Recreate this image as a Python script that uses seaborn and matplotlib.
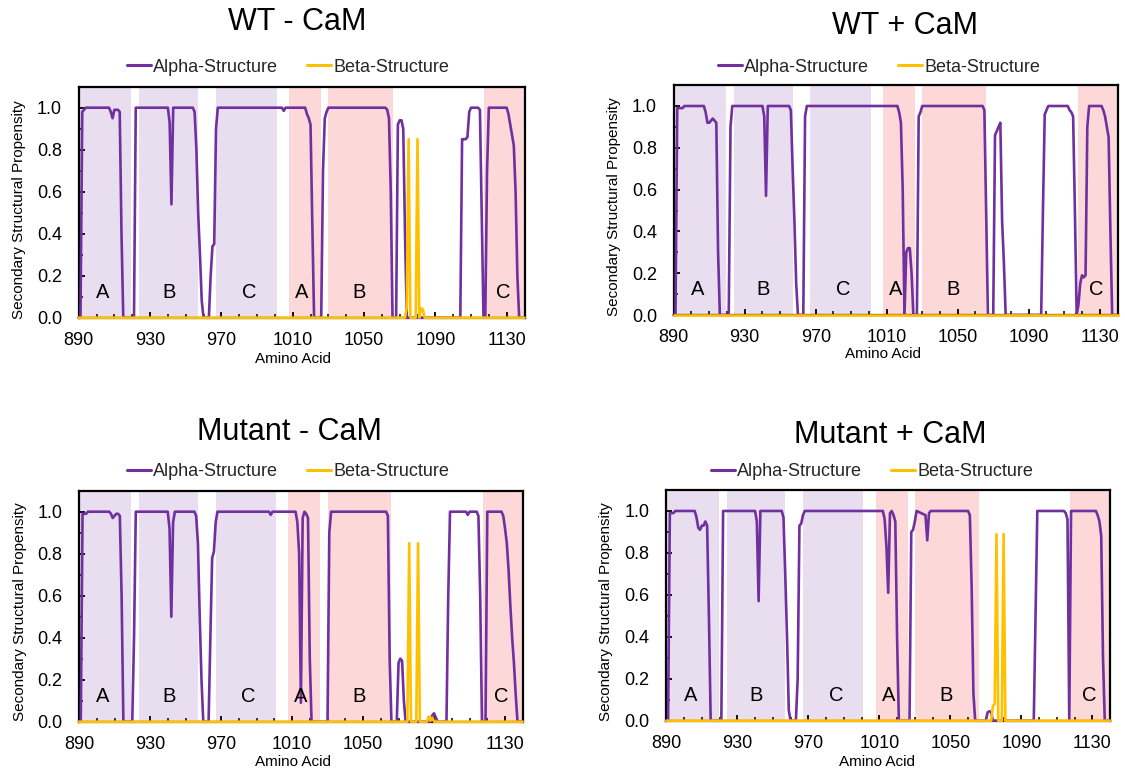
import matplotlib
matplotlib.use("Agg")
import matplotlib.pyplot as plt
from matplotlib.lines import Line2D
from matplotlib.ticker import MultipleLocator, FormatStrFormatter
import pandas as pd
import seaborn as sns

# ---------------- data ----------------
panel_titles = ["WT - CaM", "WT + CaM", "Mutant - CaM", "Mutant + CaM"]
series_names = ["Alpha-Structure", "Beta-Structure"]

# shaded domains (residue ranges)
purple_domains = [(890, 919.5), (924, 957), (967, 1001)]
red_domains = [(1008, 1026), (1030, 1066), (1117.5, 1140)]
domain_letters = ["A", "B", "C", "A", "B", "C"]
domain_letter_x = [903.5, 940.5, 985.5, 1015, 1047.5, 1128]

x_ticks = [890, 930, 970, 1010, 1050, 1090, 1130]

# WT - CaM
wt_minus_alpha_x = [890, 891, 892, 893, 894, 907, 908, 909, 910, 911, 912, 913, 914, 915,
                    921, 922, 940, 941, 942, 943, 954, 955, 956, 957, 958, 959, 960,
                    963, 964, 965, 966, 967, 968, 1004, 1005, 1006,
                    1017, 1018, 1019, 1020, 1021, 1022, 1026, 1027, 1028, 1029, 1030,
                    1062, 1063, 1064, 1065, 1066, 1068, 1069, 1070, 1071, 1072, 1073, 1074,
                    1104, 1105, 1106, 1107, 1108, 1109, 1110, 1114, 1115, 1116, 1117, 1118, 1119, 1120,
                    1130, 1131, 1132, 1133, 1134, 1135, 1136, 1137, 1140]
wt_minus_alpha_y = [0, 0, 0.98, 0.99, 1.0, 1.0, 0.98, 0.95, 0.99, 0.99, 0.99, 0.98, 0.4, 0,
                    0, 1.0, 1.0, 0.93, 0.54, 1.0, 1.0, 0.98, 0.8, 0.5, 0.3, 0.08, 0,
                    0, 0.2, 0.34, 0.35, 0.9, 1.0, 1.0, 0.985, 1.0,
                    1.0, 0.97, 0.95, 0.92, 0.45, 0, 0, 0.7, 0.95, 0.98, 1.0,
                    1.0, 0.99, 0.95, 0.6, 0, 0, 0.92, 0.94, 0.94, 0.9, 0.4, 0,
                    0, 0.85, 0.85, 0.85, 0.86, 0.98, 1.0, 1.0, 0.99, 0.5, 0, 0, 0.7, 1.0,
                    1.0, 0.97, 0.92, 0.87, 0.82, 0.6, 0.2, 0, 0]
wt_minus_beta_x = [890, 1073, 1074, 1075, 1076, 1079, 1080, 1081, 1082, 1083, 1084, 1140]
wt_minus_beta_y = [0, 0, 0.05, 0.85, 0, 0, 0.85, 0, 0.045, 0.04, 0, 0]

# WT + CaM
wt_plus_alpha_x = [890, 891, 892, 895, 896, 907, 908, 909, 910, 911, 912, 913, 914, 915, 916,
                   921, 922, 923, 940, 941, 942, 943, 955, 956, 957, 958, 959, 960,
                   963, 964, 965, 1016, 1017, 1018, 1019, 1020, 1021, 1022, 1023, 1024, 1025,
                   1027, 1028, 1029, 1030, 1064, 1065, 1066, 1067,
                   1070, 1071, 1072, 1073, 1074, 1075, 1076, 1077,
                   1097, 1098, 1099, 1100, 1101, 1112, 1113, 1114, 1115, 1116, 1117,
                   1118, 1119, 1120, 1121, 1122, 1123, 1124,
                   1131, 1132, 1133, 1134, 1135, 1136, 1137, 1140]
wt_plus_alpha_y = [0, 0, 0.99, 0.99, 1.0, 1.0, 0.97, 0.92, 0.92, 0.93, 0.94, 0.93, 0.92, 0.3, 0,
                   0, 0.9, 1.0, 1.0, 0.95, 0.57, 1.0, 1.0, 0.98, 0.7, 0.45, 0.15, 0,
                   0, 0.95, 1.0, 1.0, 0.97, 0.92, 0.6, 0, 0.3, 0.32, 0.32, 0.2, 0,
                   0, 0.95, 0.97, 1.0, 1.0, 0.98, 0.5, 0,
                   0, 0.86, 0.88, 0.9, 0.92, 0.45, 0.25, 0,
                   0, 0.5, 0.96, 0.98, 1.0, 1.0, 0.98, 0.97, 0.95, 0.5, 0,
                   0.05, 0.15, 0.19, 0.18, 0.19, 0.9, 1.0,
                   1.0, 0.98, 0.95, 0.9, 0.85, 0.4, 0, 0]
wt_plus_beta_x = [890, 1140]
wt_plus_beta_y = [0, 0]

# Mutant - CaM
mut_minus_alpha_x = [890, 891, 892, 894, 895, 907, 908, 909, 910, 911, 912, 913, 914, 915,
                     920, 921, 922, 940, 941, 942, 943, 944, 955, 956, 957, 958, 959, 960,
                     963, 964, 965, 966, 967, 968, 997, 998, 999,
                     1012, 1013, 1014, 1015, 1016, 1017, 1018, 1019, 1020, 1021,
                     1030, 1031, 1032, 1063, 1064, 1065, 1066,
                     1069, 1070, 1071, 1072, 1073, 1074, 1088, 1089, 1090, 1091, 1092,
                     1097, 1098, 1099, 1108, 1109, 1110, 1114, 1115, 1116, 1117, 1119, 1120,
                     1128, 1129, 1130, 1131, 1132, 1133, 1134, 1135, 1136, 1137, 1140]
mut_minus_alpha_y = [0, 0, 0.99, 0.99, 1.0, 1.0, 0.99, 0.97, 0.98, 0.99, 0.99, 0.98, 0.6, 0,
                     0, 0.4, 1.0, 1.0, 0.92, 0.5, 0.95, 1.0, 1.0, 0.98, 0.85, 0.5, 0.2, 0,
                     0, 0.4, 0.78, 0.81, 0.95, 1.0, 1.0, 0.985, 1.0,
                     1.0, 0.95, 0.8, 0.09, 0.97, 1.0, 0.99, 0.97, 0.3, 0,
                     0, 0.9, 1.0, 1.0, 0.98, 0.3, 0,
                     0, 0.28, 0.3, 0.29, 0.1, 0, 0, 0.03, 0.04, 0.02, 0,
                     0, 0.6, 1.0, 1.0, 0.985, 1.0, 1.0, 0.98, 0.6, 0, 0, 1.0,
                     1.0, 0.98, 0.92, 0.85, 0.72, 0.55, 0.4, 0.28, 0.13, 0, 0]
mut_minus_beta_x = [890, 1075, 1076, 1077, 1080, 1081, 1082, 1086, 1087, 1088, 1089, 1090, 1140]
mut_minus_beta_y = [0, 0, 0.85, 0, 0, 0.85, 0, 0, 0.025, 0.005, 0.02, 0, 0]

# Mutant + CaM
mut_plus_alpha_x = [890, 891, 892, 894, 895, 906, 907, 908, 909, 910, 911, 912, 913, 914, 915,
                    921, 922, 940, 941, 942, 943, 955, 956, 957, 958, 959, 960,
                    963, 964, 965, 966, 967, 968,
                    1012, 1013, 1014, 1015, 1016, 1017, 1018, 1019, 1020, 1021,
                    1027, 1028, 1029, 1030, 1031, 1036, 1037, 1038, 1039,
                    1060, 1061, 1062, 1063, 1064, 1070, 1071, 1072, 1073, 1074,
                    1097, 1098, 1099, 1114, 1115, 1116, 1117, 1118,
                    1132, 1133, 1134, 1135, 1136, 1137, 1140]
mut_plus_alpha_y = [0, 0, 0.99, 0.99, 1.0, 1.0, 0.97, 0.92, 0.91, 0.93, 0.93, 0.95, 0.93, 0.5, 0,
                    0, 1.0, 1.0, 0.95, 0.57, 1.0, 1.0, 0.97, 0.7, 0.4, 0.05, 0,
                    0, 0.2, 0.93, 0.94, 0.98, 1.0,
                    1.0, 0.96, 0.83, 0.61, 0.99, 1.0, 0.98, 0.95, 0.4, 0,
                    0, 0.9, 0.91, 0.95, 1.0, 0.98, 0.86, 0.99, 1.0,
                    1.0, 0.98, 0.64, 0.13, 0, 0, 0.04, 0.045, 0.04, 0,
                    0, 0.5, 1.0, 1.0, 0.99, 0.96, 0, 1.0,
                    1.0, 0.98, 0.95, 0.88, 0.3, 0, 0]
mut_plus_beta_x = [890, 1073, 1074, 1075, 1076, 1077, 1079, 1080, 1081, 1140]
mut_plus_beta_y = [0, 0, 0.07, 0.08, 0.89, 0, 0, 0.89, 0, 0]

panels = [
    (wt_minus_alpha_x, wt_minus_alpha_y, wt_minus_beta_x, wt_minus_beta_y),
    (wt_plus_alpha_x, wt_plus_alpha_y, wt_plus_beta_x, wt_plus_beta_y),
    (mut_minus_alpha_x, mut_minus_alpha_y, mut_minus_beta_x, mut_minus_beta_y),
    (mut_plus_alpha_x, mut_plus_alpha_y, mut_plus_beta_x, mut_plus_beta_y),
]

# ---------------- style / layout ----------------
sns.set_theme(style="white")
plt.rcParams['font.family'] = ['Liberation Sans', 'DejaVu Sans']

W, H = 1125, 775
ALPHA_C = "#7030A0"
BETA_C = "#FFC000"
PURPLE_BG = "#E8DEF0"
RED_BG = "#FCD8D8"

# axes rects in pixels: left, top, right, bottom
ax_px = [(78.7, 86.7, 524.5, 317.7),
         (673.7, 85.1, 1117.5, 315.0),
         (79.0, 490.7, 522.8, 721.7),
         (666.3, 490.0, 1110.1, 720.7)]
title_px = [(297, 22), (905, 26), (289, 432), (890, 435)]
legend_px = [(288, 67), (879, 67), (288, 472), (872, 472)]
ylabel_px = [(18.6, 210), (613.6, 207), (19.6, 612), (606, 612)]
xlabel_px = [(293, 359), (883, 354), (293, 762), (877, 762)]

fig = plt.figure(figsize=(W / 100, H / 100), dpi=100)

for i, (ax_x, ax_y, bx, by) in enumerate(panels):
    l, t, r, b = ax_px[i]
    ax = fig.add_axes([l / W, 1 - b / H, (r - l) / W, (b - t) / H])
    ax.set_facecolor("white")

    for (s, e) in purple_domains:
        ax.axvspan(s, e, color=PURPLE_BG, lw=0, zorder=0)
    for (s, e) in red_domains:
        ax.axvspan(s, e, color=RED_BG, lw=0, zorder=0)

    df = pd.concat([
        pd.DataFrame({"aa": ax_x, "val": ax_y, "series": series_names[0]}),
        pd.DataFrame({"aa": bx, "val": by, "series": series_names[1]}),
    ], ignore_index=True)
    sns.lineplot(data=df, x="aa", y="val", hue="series",
                 palette={series_names[0]: ALPHA_C, series_names[1]: BETA_C},
                 estimator=None, sort=False, linewidth=1.9, legend=False, ax=ax)
    for ln in ax.lines:
        ln.set_clip_on(False)
        ln.set_zorder(3)

    for lx, lt in zip(domain_letter_x, domain_letters):
        ax.text(lx, 0.12, lt, ha="center", va="center", fontsize=14.5, color="black", zorder=4)

    ax.set_xlim(890, 1140)
    ax.set_ylim(0, 1.1)
    ax.set_xticks(x_ticks)
    ax.xaxis.set_minor_locator(MultipleLocator(10))
    ax.yaxis.set_major_locator(MultipleLocator(0.2))
    ax.yaxis.set_minor_locator(MultipleLocator(0.1))
    ax.yaxis.set_major_formatter(FormatStrFormatter('%.1f'))
    ax.tick_params(axis="x", which="major", direction="in", length=4, width=1.3,
                   labelsize=13, pad=10, colors="black", bottom=True)
    ax.tick_params(axis="x", which="minor", direction="in", length=3, width=1.3, bottom=True)
    ax.tick_params(axis="y", which="major", direction="in", length=4, width=1.3,
                   labelsize=13, pad=12, colors="black", left=True)
    ax.tick_params(axis="y", which="minor", direction="in", length=3, width=1.3, left=True)
    ax.set_xlabel("")
    ax.set_ylabel("")
    for sp in ax.spines.values():
        sp.set_visible(True)
        sp.set_color("black")
        sp.set_linewidth(1.6)

    handles = [Line2D([0], [0], color=ALPHA_C, lw=2.2), Line2D([0], [0], color=BETA_C, lw=2.2)]
    cx, cy = legend_px[i]
    ax.legend(handles, series_names, loc="center", bbox_to_anchor=(cx / W, 1 - cy / H),
              bbox_transform=fig.transFigure, ncol=2, frameon=False, fontsize=13,
              handlelength=1.35, handletextpad=0.1, columnspacing=1.6, borderpad=0.1)

    tx, ty = title_px[i]
    fig.text(tx / W, 1 - ty / H, panel_titles[i], ha="center", va="center", fontsize=22, color="black")
    yx, yy = ylabel_px[i]
    fig.text(yx / W, 1 - yy / H, "Secondary Structural Propensity", rotation=90,
             ha="center", va="center", fontsize=11, color="black")
    xx, xy = xlabel_px[i]
    fig.text(xx / W, 1 - xy / H, "Amino Acid", ha="center", va="center", fontsize=11, color="black")

fig.savefig("out.png", dpi=100, facecolor="white")
